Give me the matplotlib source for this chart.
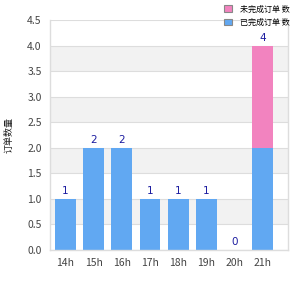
import matplotlib
matplotlib.use("Agg")
import matplotlib.pyplot as plt
from matplotlib.patches import Patch

plt.rcParams['font.family'] = ['Noto Sans CJK SC', 'DejaVu Sans']

categories = ["14h", "15h", "16h", "17h", "18h", "19h", "20h", "21h"]
series_a = [1, 2, 2, 1, 1, 1, 0, 2]   # blue
series_b = [0, 0, 0, 0, 0, 0, 0, 2]   # pink
legend_labels = ["未完成订单 数", "已完成订单 数"]
ylabel = "订单数量"
yticks = [0.0, 0.5, 1.0, 1.5, 2.0, 2.5, 3.0, 3.5, 4.0, 4.5]

blue = "#61a8f2"
pink = "#f283bf"

fig = plt.figure(figsize=(3, 3), dpi=100)
ax = fig.add_axes([50/300, 50/300, 238/300, 230/300])

# alternating bands
for i in range(len(yticks) - 1):
    if i % 2 == 1:
        ax.axhspan(yticks[i], yticks[i + 1], color="#f2f2f2", zorder=0, lw=0)
for t in yticks:
    ax.axhline(t, color="#dddddd", lw=0.8, zorder=0.5)

x = list(range(len(categories)))
ax.bar(x, series_a, width=0.74, color=blue, zorder=2)
ax.bar(x, series_b, width=0.74, bottom=series_a, color=pink, zorder=2)

for xi, a, b in zip(x, series_a, series_b):
    tot = a + b
    ax.text(xi, tot + 0.05, f"{tot}", ha="center", va="bottom",
            color="#1c1ca0", fontsize=7.5, family="DejaVu Sans")

ax.set_xlim(-0.55, len(categories) - 0.5 + 0.4)
ax.set_ylim(0, 4.5)
ax.set_yticks(yticks)
ax.set_yticklabels([f"{t:.1f}" for t in yticks], fontsize=7.5, color="#444444")
ax.set_xticks(x)
ax.set_xticklabels(categories, fontsize=7.5, color="#444444")
ax.tick_params(length=0, pad=6)

ax.spines["top"].set_visible(False)
for s in ["left", "right", "bottom"]:
    ax.spines[s].set_color("#dddddd")
    ax.spines[s].set_linewidth(1)

ax.set_ylabel(ylabel, fontsize=6.5, color="#222222", labelpad=10)

handles = [Patch(facecolor=pink, edgecolor="#888888", lw=0.8),
           Patch(facecolor=blue, edgecolor="#888888", lw=0.8)]
fig.legend(handles, legend_labels, loc="upper left", bbox_to_anchor=(220/300, 1.0),
           frameon=False, fontsize=5.8, handlelength=0.9, handleheight=0.9,
           handletextpad=1.0, labelspacing=0.55, borderaxespad=0.15)

fig.savefig("out.png", dpi=100)
